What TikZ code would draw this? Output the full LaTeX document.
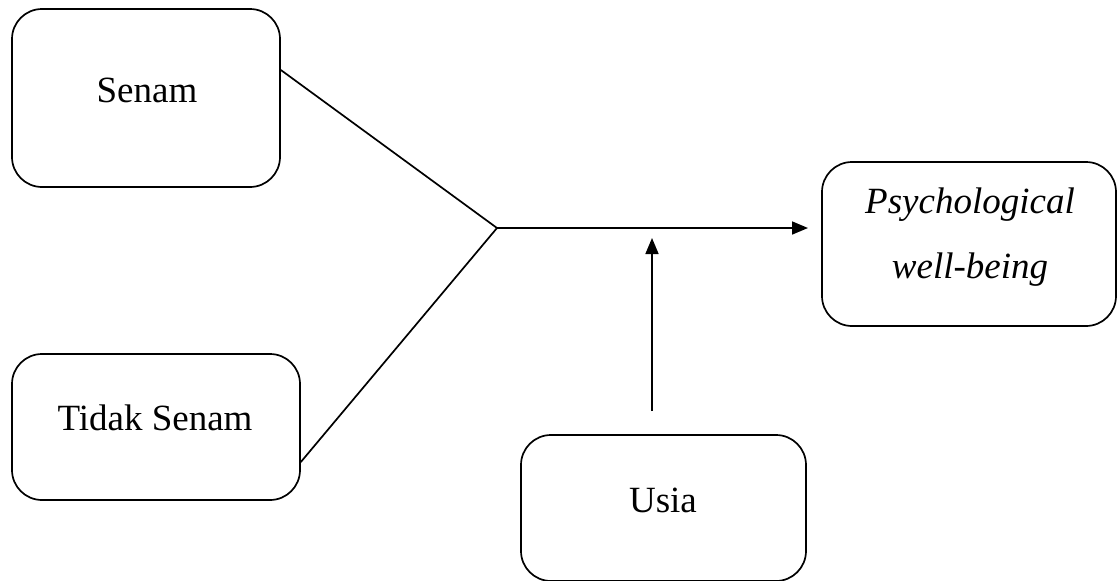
\documentclass[tikz,border=0pt]{standalone}
\usepackage{fontspec}
\setmainfont{Liberation Serif}
\usetikzlibrary{arrows.meta}
\begin{document}
\begin{tikzpicture}[x=1pt,y=-1pt,
  box/.style={draw,line width=1.7pt,rounded corners=30pt,inner sep=0pt},
  txt/.style={anchor=base,inner sep=0pt,font=\fontsize{37}{43}\selectfont},
  conn/.style={line width=1.7pt},
  arr/.style={line width=1.7pt,-{Triangle[length=16pt,width=13pt]}}]
\useasboundingbox (0,0) rectangle (1117,581);
\node[box,minimum width=268pt,minimum height=178pt] (senam) at (146,98) {};
\node[box,minimum width=288pt,minimum height=146pt] (tidak) at (156,427) {};
\node[box,minimum width=285pt,minimum height=146pt] (usia) at (663.5,508) {};
\node[box,minimum width=294pt,minimum height=164pt] (pwb) at (969,244) {};
\node[txt] (senamt) at (147,102) {Senam};
\node[txt] (tidakt) at (155,430) {Tidak Senam};
\node[txt] (usiat) at (663,512) {Usia};
\node[txt] (pwbt1) at (970,213) {\itshape Psychological};
\node[txt] (pwbt2) at (970,278) {\itshape well-being};
\coordinate (j) at (497,228);
\coordinate (pe) at (808,228);
\coordinate (ua) at (652,411);
\coordinate (ut) at (652,238);
\draw[conn] (senam.east |- 0,70) -- (j);
\draw[conn] (tidak.east |- 0,462) -- (j);
\draw[arr] (j) -- (pe);
\draw[arr] (ua) -- (ut);
\end{tikzpicture}
\end{document}
